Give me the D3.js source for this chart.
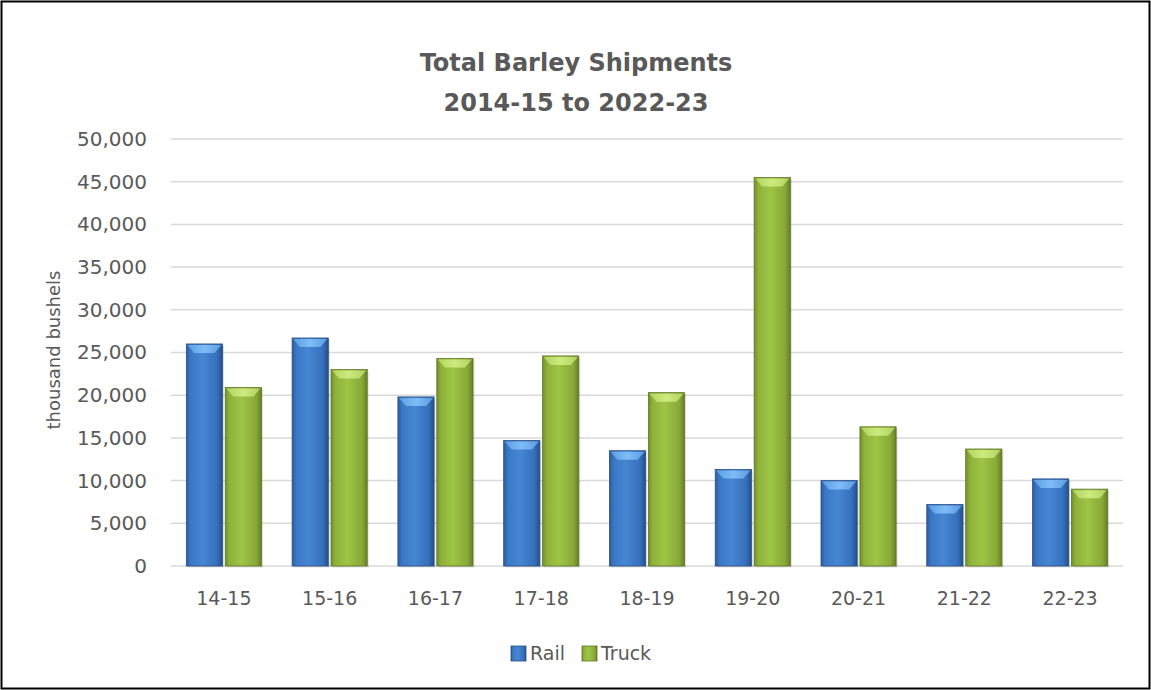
<!DOCTYPE html>
<html><head><meta charset="utf-8">
<script src="https://cdnjs.cloudflare.com/ajax/libs/d3/7.8.5/d3.min.js"></script>
<style>body{margin:0;background:#fff}svg{display:block}</style>
</head><body><svg id="c" width="1151" height="690"></svg>
<script>
const categories = ["14-15","15-16","16-17","17-18","18-19","19-20","20-21","21-22","22-23"];
const rail  = [26000, 26700, 19800, 14700, 13500, 11300, 10000, 7200, 10200];
const truck = [20900, 23000, 24300, 24600, 20300, 45500, 16300, 13700, 9000];
const seriesNames = ["Rail","Truck"];
const yTicks = [0,5000,10000,15000,20000,25000,30000,35000,40000,45000,50000];
const title = ["Total Barley Shipments","2014-15 to 2022-23"];
const yTitle = "thousand bushels";

const svg = d3.select("#c");
const W=1151,H=690;
const m={l:171,r:1123,t:139,b:566};
const font="'DejaVu Sans', sans-serif";
const txt="#595959";

svg.append("rect").attr("x",1.5).attr("y",1.5).attr("width",W-3).attr("height",H-3)
  .attr("fill","#fff").attr("stroke","#000").attr("stroke-width",2);

const defs=svg.append("defs");
function grad(id,stops){
  const g=defs.append("linearGradient").attr("id",id).attr("x1","0").attr("x2","1").attr("y1","0").attr("y2","0");
  stops.forEach(s=>g.append("stop").attr("offset",s[0]).attr("stop-color",s[1]));
}
grad("gRail",[[0,"#2b5c9e"],[0.12,"#3a78c6"],[0.45,"#4686d2"],[0.85,"#3570bb"],[1,"#244f8a"]]);
grad("gTruck",[[0,"#71902c"],[0.12,"#8fb23a"],[0.45,"#9ec545"],[0.85,"#88a937"],[1,"#657f27"]]);
grad("gRailTop",[[0,"#5fa2e6"],[0.5,"#86c2fb"],[1,"#5fa2e6"]]);
grad("gTruckTop",[[0,"#b5d864"],[0.5,"#d2ee86"],[1,"#b5d864"]]);
const fills={Rail:"url(#gRail)",Truck:"url(#gTruck)"};
const tops={Rail:"url(#gRailTop)",Truck:"url(#gTruckTop)"};
const strokes={Rail:"#2a4f80",Truck:"#5f7526"};

const x=d3.scaleBand().domain(categories).range([m.l,m.r]).paddingInner(0.29).paddingOuter(0.145);
const xs=d3.scaleBand().domain(seriesNames).range([0,x.bandwidth()]).paddingInner(0.07);
const y=d3.scaleLinear().domain([0,50000]).range([m.b,m.t]);

// gridlines
svg.append("g").selectAll("line").data(yTicks).join("line")
  .attr("x1",m.l).attr("x2",m.r).attr("y1",d=>y(d)).attr("y2",d=>y(d))
  .attr("stroke","#d9d9d9").attr("stroke-width",1.5);

// y axis labels
const yAxis=d3.axisLeft(y).tickValues(yTicks).tickFormat(d3.format(",")).tickSize(0).tickPadding(24);
const ga=svg.append("g").attr("transform",`translate(${m.l},0)`).call(yAxis);
ga.select(".domain").remove();
ga.selectAll("text").attr("font-family",font).attr("font-size",20).attr("fill",txt);

// x axis labels
const xAxis=d3.axisBottom(x).tickSize(0).tickPadding(26);
const gx=svg.append("g").attr("transform",`translate(0,${m.b})`).call(xAxis);
gx.select(".domain").remove();
gx.selectAll("text").attr("font-family",font).attr("font-size",19).attr("fill",txt);

// bars
const data=[];
categories.forEach((c,i)=>{data.push({c,s:"Rail",v:rail[i]});data.push({c,s:"Truck",v:truck[i]});});
const bg=svg.append("g");
data.forEach(d=>{
  const bx=x(d.c)+xs(d.s), bw=xs.bandwidth(), by=y(d.v), bh=y(0)-y(d.v);
  const g=bg.append("g");
  g.append("rect").attr("x",bx+1.5).attr("y",by+1.5).attr("width",bw).attr("height",bh)
    .attr("fill","#000").attr("opacity",0.12);
  g.append("rect").attr("x",bx).attr("y",by).attr("width",bw).attr("height",bh)
    .attr("fill",fills[d.s]).attr("stroke",strokes[d.s]).attr("stroke-width",0.8);
  const bv=Math.min(9,bh/2);
  g.append("path").attr("d",`M${bx+1},${by+1}L${bx+bw-1},${by+1}L${bx+bw-8},${by+bv}L${bx+8},${by+bv}Z`)
    .attr("fill",tops[d.s]).attr("opacity",0.9);
});

// titles
const tg=svg.append("g").attr("font-family",font).attr("fill",txt).attr("text-anchor","middle").attr("font-weight","bold");
tg.append("text").attr("x",576).attr("y",71).attr("font-size",24).text(title[0]);
tg.append("text").attr("x",576).attr("y",111).attr("font-size",24).text(title[1]);

svg.append("text").attr("transform","translate(60,350) rotate(-90)").attr("text-anchor","middle")
  .attr("font-family",font).attr("font-size",18).attr("fill",txt).text(yTitle);

// legend
const leg=svg.append("g");
const legX=[511,582];
seriesNames.forEach((s,i)=>{
  leg.append("rect").attr("x",legX[i]).attr("y",646).attr("width",15).attr("height",15)
    .attr("fill",fills[s]).attr("stroke",strokes[s]).attr("stroke-width",0.8);
  leg.append("text").attr("x",legX[i]+19).attr("y",660).attr("font-family",font).attr("font-size",19)
    .attr("fill",txt).text(s);
});
</script></body></html>
